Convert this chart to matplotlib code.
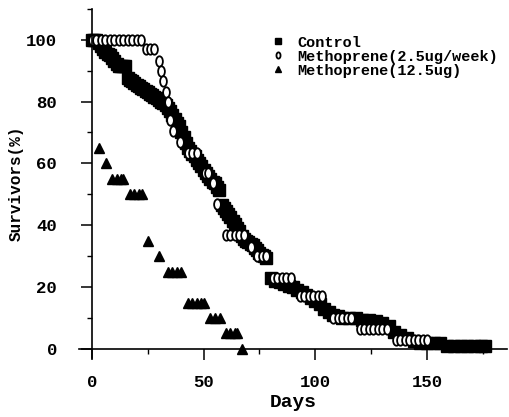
import matplotlib
matplotlib.use("Agg")
import matplotlib.pyplot as plt
import matplotlib.ticker as ticker
from matplotlib.markers import MarkerStyle
from matplotlib.transforms import Affine2D

# Control (filled squares)
ctrl_days = [0, 1, 2, 3, 4, 5, 6, 7, 8, 9, 10, 11, 12, 13, 14, 15,
             16, 17, 18, 19, 20, 21, 22, 23, 24, 25, 26, 27, 28, 29, 30, 31, 32, 33,
             34, 35, 36, 37, 38, 39, 40, 41, 42, 43, 44, 45, 46, 47, 48, 49, 50, 51,
             52, 53, 54, 55, 56, 57,
             58, 59, 60, 61, 62, 63, 64, 65, 66, 67, 68, 69, 70, 71, 72, 73, 74, 75,
             76, 77, 78,
             80, 82, 84, 86, 88, 90, 92, 94, 96, 98, 100, 102, 104, 106, 108, 110, 112,
             115, 118, 121, 124, 127, 130, 133,
             135, 138, 141, 144,
             147, 150, 153, 156,
             159, 162, 165, 168, 171, 174, 176]
ctrl_pct = [100, 100, 100, 99, 98, 97, 96, 95.5, 95, 94, 93, 92, 91.5, 91.5, 91.5, 91.5,
            87.5, 87, 86.5, 86, 85.5, 85, 84.5, 84, 83.5, 83, 82.5, 82, 81.5, 81, 80.5, 80, 79.5, 79,
            78, 77, 75.5, 74.5, 73, 72, 70, 68.5, 66.5, 65, 64, 63, 62.5, 61, 60, 59, 58, 57,
            56, 55, 54, 53.5, 52.5, 51.5,
            46.5, 45.5, 44.5, 43.5, 42.5, 41.5, 40.5, 39, 38, 36.5, 35.5, 35, 34.5, 34, 33.5, 32.5, 32, 31,
            30.5, 30, 29.5,
            23, 22, 21.5, 21, 20.5, 20, 19, 18.5, 17.5, 16.5, 15.5, 14.5, 13, 12, 11, 10.5, 10,
            10, 10, 9.5, 9.5, 9, 8.5, 7.5,
            5.5, 4.5, 3.5, 2.5,
            2, 2, 2, 2,
            1, 1, 1, 1, 1, 1, 1]

# Methoprene 2.5ug/week (open ovals)
m25_days = [0, 2, 4, 6, 8, 10, 12, 14, 16, 18, 20, 22,
            24, 26, 28,
            30, 31, 32, 33, 34, 35, 36.5, 39.5,
            43, 45, 47,
            50.5, 52, 54.3, 55.8,
            60, 62, 64, 66, 68,
            71,
            74, 76, 78,
            81, 83, 85, 87, 89,
            93, 95, 97, 99, 101, 103,
            108, 110, 112, 114, 116,
            120, 122, 124, 126, 128, 130, 132,
            136, 138, 140, 142, 144, 146, 148, 150]
m25_pct = [100, 100, 100, 100, 100, 100, 100, 100, 100, 100, 100, 100,
           97, 97, 97,
           93, 90, 86.5, 83, 80, 74, 70.5, 67,
           63.3, 63.3, 63.3,
           57, 57, 53.6, 47,
           37, 37, 37, 37, 37,
           33,
           30, 30, 30,
           23, 23, 23, 23, 23,
           17, 17, 17, 17, 17, 17,
           10, 10, 10, 10, 10,
           6.5, 6.5, 6.5, 6.5, 6.5, 6.5, 6.5,
           3, 3, 3, 3, 3, 3, 3, 3]

# Methoprene 12.5ug (filled triangles)
m125_days = [3, 6.5, 9, 11, 13, 14, 17, 19, 21, 22.5, 25, 30,
             34, 36, 38, 40, 43, 45, 47, 49, 50, 53, 55, 57.5, 60, 62, 64, 65, 67]
m125_pct = [65, 60, 55, 55, 55, 55, 50, 50, 50, 50, 35, 30,
            25, 25, 25, 25, 15, 15, 15, 15, 15, 10, 10, 10, 5, 5, 5, 5, 0]

labels = ["Control", "Methoprene(2.5ug/week)", "Methoprene(12.5ug)"]

plt.rcParams["font.family"] = ["Liberation Mono", "DejaVu Sans"]
plt.rcParams["font.weight"] = "bold"

fig = plt.figure(figsize=(5.1, 4.17), dpi=100)
ax = fig.add_axes([0.154, 0.141, 0.841, 0.838])

oval = MarkerStyle("o", transform=Affine2D().scale(0.65, 1.0))

ax.plot(ctrl_days, ctrl_pct, linestyle="none", marker="s", markersize=8,
        color="black", label=labels[0])
ax.plot(m25_days, m25_pct, linestyle="none", marker=oval, markersize=7.5,
        markerfacecolor="white", markeredgecolor="black", markeredgewidth=1.3,
        label=labels[1])
ax.plot(m125_days, m125_pct, linestyle="none", marker="^", markersize=7,
        color="black", label=labels[2])

ax.set_xlim(-6, 186)
ax.set_ylim(-3, 110)
ax.spines["top"].set_visible(False)
ax.spines["right"].set_visible(False)
ax.spines["left"].set_position(("data", 0))
ax.spines["bottom"].set_position(("data", 0))
for s in ("left", "bottom"):
    ax.spines[s].set_linewidth(1.2)

ax.xaxis.set_major_locator(ticker.MultipleLocator(50))
ax.xaxis.set_minor_locator(ticker.MultipleLocator(25))
ax.yaxis.set_major_locator(ticker.MultipleLocator(20))
ax.yaxis.set_minor_locator(ticker.MultipleLocator(10))
ax.set_yticks([0, 20, 40, 60, 80, 100])

ax.tick_params(axis="both", which="major", direction="out", length=8, width=1.1,
               labelsize=12.5, pad=11)
ax.tick_params(axis="both", which="minor", direction="out", length=3.5, width=1)
ax.tick_params(axis="y", which="major", pad=17)

ax.set_xlabel("Days", fontsize=14, fontweight="bold", labelpad=3)
ax.set_ylabel("Survivors(%)", fontsize=11.5, fontweight="bold", labelpad=1.5)

leg = ax.legend(loc="upper left", bbox_to_anchor=(0.447, 0.923), frameon=False,
                fontsize=11, handlelength=1.0, handletextpad=0.75,
                labelspacing=0.0, borderpad=0, borderaxespad=0, markerscale=0.6)

fig.savefig("out.png", dpi=100)
